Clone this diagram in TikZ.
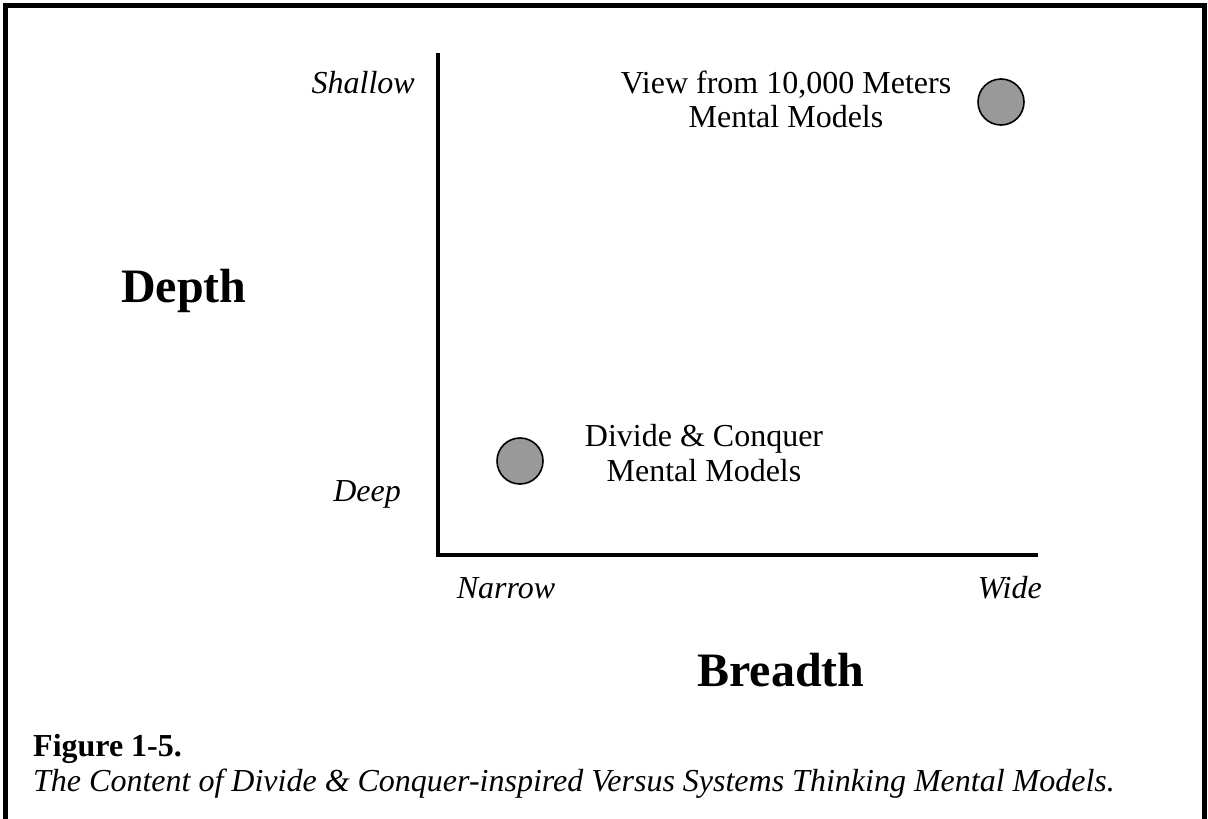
\documentclass[tikz,border=0pt]{standalone}
\usepackage{fontspec}
\setmainfont{Liberation Serif}
\begin{document}
\begin{tikzpicture}[x=1pt,y=-1pt,
  lbl/.style={inner sep=0pt, font=\fontsize{32}{36}\selectfont},
  ilbl/.style={inner sep=0pt, font=\fontsize{32}{36}\selectfont\itshape},
  big/.style={inner sep=0pt, font=\fontsize{48}{54}\selectfont\bfseries},
  dot/.style={circle, draw=black, line width=1.6pt, fill=black!40, minimum size=46pt, inner sep=0pt},
  frame/.style={line width=5pt, line join=miter},
  axis/.style={line width=3.8pt, line join=miter}]
\useasboundingbox (0,0) rectangle (1208,819);
% frame
\draw[frame] (5.5,819) -- (5.5,5.5) -- (1204.5,5.5) -- (1204.5,819);
% axes
\coordinate (ytop) at (438,53);
\coordinate (origin) at (438,555);
\coordinate (xend) at (1038,555);
\draw[axis] (ytop) -- (origin) -- (xend);
% axis labels
\node[ilbl, anchor=base east] (shallow) at (415,93) {Shallow};
\node[ilbl, anchor=base east] (deep) at (401,501) {Deep};
\node[ilbl, anchor=base] (narrow) at (506,598) {Narrow};
\node[ilbl, anchor=base east] (wide) at (1042,598) {Wide};
\node[big, anchor=base west] (depth) at (121,302) {Depth};
\node[big, anchor=base] (breadth) at (781,686) {Breadth};
% points
\node[dot] (sys) at (1001,102) {};
\node[dot] (dc) at (520,461) {};
\node[lbl, anchor=base] (sys1) at (786,93) {View from 10,000 Meters};
\node[lbl, anchor=base] (sys2) at (786,127) {Mental Models};
\node[lbl, anchor=base] (dc1) at (704,446) {Divide \& Conquer};
\node[lbl, anchor=base] (dc2) at (704,481) {Mental Models};
% caption
\node[lbl, anchor=base west, font=\fontsize{32}{36}\selectfont\bfseries] (fig) at (33,756) {Figure 1-5.};
\node[ilbl, anchor=base west] (cap) at (33,791) {The Content of Divide \& Conquer-inspired Versus Systems Thinking Mental Models.};
\end{tikzpicture}
\end{document}
